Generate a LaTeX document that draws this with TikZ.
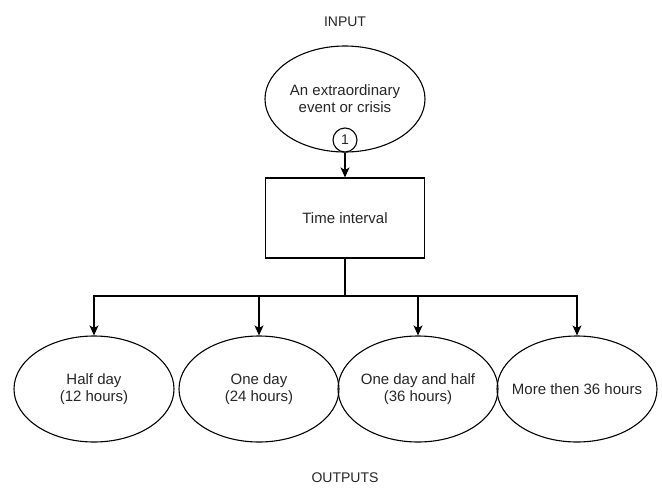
\documentclass[tikz,border=0pt]{standalone}
\usepackage{fontspec}
\setmainfont{Liberation Sans}
\usetikzlibrary{shapes.geometric,arrows.meta}
\begin{document}
\begin{tikzpicture}[x=1pt,y=-1pt,
  every node/.style={font=\fontsize{15}{17}\selectfont, text=black!85},
  oval/.style={draw, ellipse, line width=1.1pt, minimum width=160pt, minimum height=106pt, inner sep=0pt},
  txt/.style={align=center, inner sep=0pt},
  box/.style={draw, rectangle, line width=1.1pt, minimum width=159pt, minimum height=80pt, align=center},
  num/.style={draw, circle, line width=1.1pt, minimum size=24pt, inner sep=0pt, font=\fontsize{14}{16}\selectfont},
  conn/.style={line width=1.1pt, -{Stealth[length=10pt,width=9pt,inset=2.5pt]}},
  plain/.style={font=\fontsize{14}{16}\selectfont}
]
\useasboundingbox (0,0) rectangle (662,488);
\node[plain] (inp) at (345,22) {INPUT};
\node[oval] (ev) at (345,99) {};
\node[txt] (evt) at (ev) {An extraordinary\\event or crisis};
\node[num, fill=white] (one) at (345,140) {1};
\node[box] (ti) at (345,218) {Time interval};
\coordinate (br) at (345,296);
\node[oval] (e1) at (94,389) {};
\node[oval] (e2) at (259,389) {};
\node[oval] (e3) at (418,389) {};
\node[oval] (e4) at (577,389) {};
\node[txt] (t1) at (e1) {Half day\\(12 hours)};
\node[txt] (t2) at (e2) {One day\\(24 hours)};
\node[txt] (t3) at (e3) {One day and half\\(36 hours)};
\node[txt] (t4) at (e4) {More then 36 hours};
\node[plain] (out) at (345,478) {OUTPUTS};
\draw[conn] (one) -- (ti);
\draw[line width=1.1pt] (ti.south) -- (br);
\draw[conn] (br) -| (e1.north);
\draw[conn] (br) -| (e2.north);
\draw[conn] (br) -| (e3.north);
\draw[conn] (br) -| (e4.north);
\end{tikzpicture}
\end{document}
